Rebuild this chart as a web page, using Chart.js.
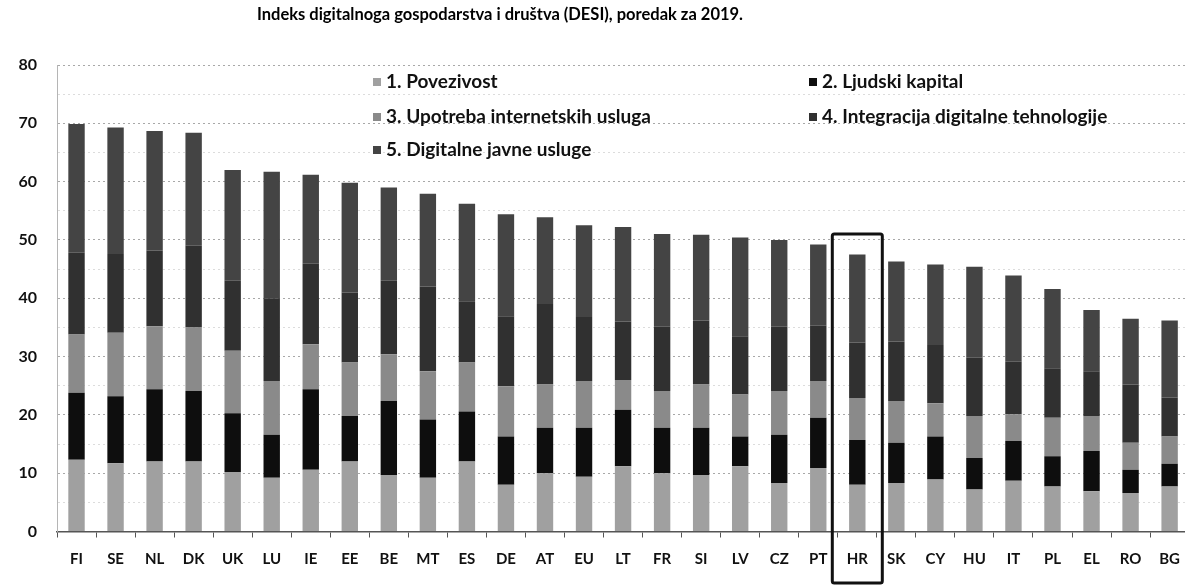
<!DOCTYPE html>
<html>
<head>
<meta charset="utf-8">
<script src="https://cdn.jsdelivr.net/npm/chart.js@4.4.1/dist/chart.umd.min.js"></script>
<style>
  html, body { margin: 0; padding: 0; background: #fff; overflow: hidden; }
  #wrap { position: relative; width: 1193px; height: 586px; }
  #title { position: absolute; left: 0; top: 4px; width: 1000px; text-align: center;
           font: bold 16.5px Lato, sans-serif; color: #000; }
</style>
</head>
<body>
<div id="wrap">
  <div id="title">Indeks digitalnoga gospodarstva i društva (DESI), poredak za 2019.</div>
  <canvas id="c"></canvas>
</div>
<script>
// DESI 2019 – ponderirani doprinosi dimenzija (očitano sa slike)
const countries = ["FI","SE","NL","DK","UK","LU","IE","EE","BE","MT","ES","DE","AT","EU","LT",
                   "FR","SI","LV","CZ","PT","HR","SK","CY","HU","IT","PL","EL","RO","BG"];

const seriesNames = ["1. Povezivost", "2. Ljudski kapital", "3. Upotreba internetskih usluga",
                     "4. Integracija digitalne tehnologije", "5. Digitalne javne usluge"];

const povezivost = [12.3,11.7,12.0,12.0,10.2, 9.2,10.6,12.0, 9.7, 9.2,12.0, 8.0,10.0, 9.4,11.2,
                    10.0, 9.7,11.2, 8.3,10.9, 8.0, 8.3, 8.9, 7.2, 8.7, 7.7, 6.9, 6.6, 7.7];
const ljudskiKapital = [11.5,11.5,12.4,12.1,10.1, 7.4,13.8, 7.8,12.7,10.0, 8.6, 8.3, 7.8, 8.4, 9.7,
                         7.8, 8.1, 5.1, 8.3, 8.6, 7.7, 6.9, 7.4, 5.4, 6.8, 5.2, 6.9, 4.0, 3.9];
const upotreba = [10.0,10.9,10.8,10.9,10.7, 9.2, 7.7, 9.2, 8.0, 8.3, 8.4, 8.6, 7.4, 8.0, 5.1,
                   6.3, 7.4, 7.2, 7.5, 6.3, 7.2, 7.2, 5.7, 7.2, 4.6, 6.6, 6.0, 4.6, 4.7];
const integracija = [14.0,13.5,13.0,14.0,12.0,14.2,13.8,12.0,12.6,14.5,10.5,12.0,13.8,11.0,10.0,
                     11.0,11.0,10.0,11.0, 9.5, 9.5,10.2,10.0,10.0, 9.0, 8.5, 7.7,10.0, 6.7];
const javneUsluge = [22.1,21.7,20.5,19.4,19.0,21.7,15.3,18.8,16.0,15.9,16.7,17.5,14.9,15.7,16.2,
                     15.9,14.7,16.9,14.9,13.9,15.1,13.7,13.8,15.6,14.8,13.6,10.5,11.3,13.2];

const highlight = "HR";
const highlightTop = 51;

const colors = ["#a0a0a0", "#0e0e0e", "#8a8a8a", "#303030", "#444444"];
const values = [povezivost, ljudskiKapital, upotreba, integracija, javneUsluge];

const datasets = values.map((v, i) => ({
  label: seriesNames[i],
  data: v,
  backgroundColor: colors[i],
  borderWidth: 0,
  barPercentage: 0.42,
  categoryPercentage: 1
}));

// legenda u dva stupca unutar područja grafikona
const gridLegend = {
  id: "gridLegend",
  afterDraw(chart) {
    const ctx = chart.ctx;
    const colX = [373, 809];
    const rowY = [82, 117, 150];
    ctx.save();
    ctx.font = "bold 19px Lato, sans-serif";
    ctx.textBaseline = "middle";
    chart.data.datasets.forEach((ds, i) => {
      const x = colX[i % 2], y = rowY[Math.floor(i / 2)];
      ctx.fillStyle = ds.backgroundColor;
      ctx.fillRect(x, y - 4, 8, 8);
      ctx.fillStyle = "#111";
      ctx.fillText(ds.label, x + 13, y);
    });
    ctx.restore();
  }
};

// okvir oko HR
const hrBox = {
  id: "hrBox",
  afterDraw(chart) {
    const xs = chart.scales.x, ys = chart.scales.y;
    const i = chart.data.labels.indexOf(highlight);
    if (i < 0) return;
    const cx = xs.getPixelForValue(i);
    const top = ys.getPixelForValue(highlightTop);
    const ctx = chart.ctx;
    ctx.save();
    ctx.strokeStyle = "#111";
    ctx.lineWidth = 3;
    ctx.beginPath();
    ctx.roundRect(cx - 25, top, 50, chart.height - 3 - top, 2);
    ctx.stroke();
    ctx.restore();
  }
};

new Chart(document.getElementById("c"), {
  type: "bar",
  data: { labels: countries, datasets },
  options: {
    responsive: true,
    maintainAspectRatio: false,
    animation: false,
    layout: { padding: { top: 65, left: 2, right: 0, bottom: 0 } },
    plugins: { legend: { display: false }, title: { display: false }, tooltip: { enabled: false } },
    scales: {
      x: {
        stacked: true,
        grid: { offset: true, drawOnChartArea: false, tickLength: 6, color: "#555" },
        border: { color: "#555", width: 1.5 },
        ticks: { color: "#111", font: { family: "Lato", size: 15, weight: "bold" }, padding: 13,
                 autoSkip: false, maxRotation: 0 },
        afterFit(s) { s.height = 54.5; }
      },
      y: {
        stacked: true,
        min: 0, max: 80,
        ticks: { stepSize: 5, color: "#111", font: { family: "Lato", size: 16, weight: "bold" }, padding: 20,
                 callback: (v) => (v % 10 === 0 ? v : "") },
        grid: { drawTicks: false,
                color: (c) => (c.tick && c.tick.value % 10 === 0 ? "#a8a8a8" : "#dcdcdc") },
        border: { color: "#b5b5b5", dash: [2, 3] },
        afterFit(s) { s.width = 55; }
      }
    }
  },
  plugins: [gridLegend, hrBox]
});
</script>
</body>
</html>
